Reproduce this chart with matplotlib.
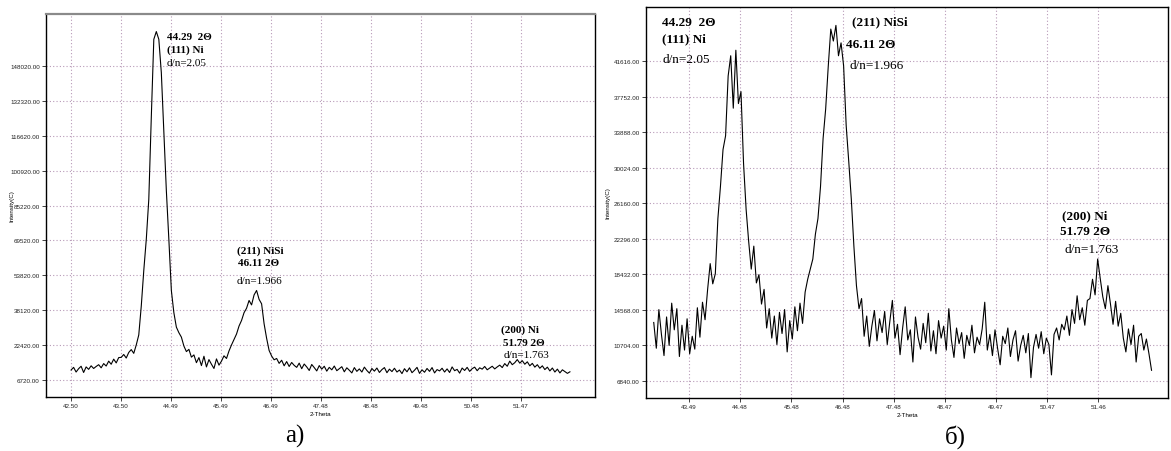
import numpy as np
import matplotlib
matplotlib.use('Agg')
import matplotlib.pyplot as plt

# ---------------------------------------------------------------
# Data (2-Theta scan, step 0.05)
# ---------------------------------------------------------------
step = 0.05

# panel a)
theta_a_start = 42.50
intensity_a = [
    11200, 12400, 10300, 11800, 12900, 10100, 12600, 11500, 13100, 11900,
    12800, 13600, 12200, 14100, 13000, 15200, 13800, 16100, 14400, 16800,
    16900, 18200, 16600, 19100, 20400, 18700, 22500, 27000, 40000, 56000,
    70000, 88000, 125000, 160000, 163500, 160000, 145000, 118000, 92000, 70000,
    47000, 37000, 30500, 28000, 26000, 22000, 19500, 20500, 17000, 18000,
    14500, 16800, 13200, 17400, 12600, 15900, 13800, 11900, 16200, 13400,
    15200, 17600, 16400, 19800, 22500, 25000, 27400, 31000, 33500, 37000,
    39000, 42500, 40500, 45000, 47000, 43000, 41000, 32000, 25500, 20000,
    17500, 15800, 16400, 14200, 15600, 13100, 15000, 12800, 14600, 13300,
    12400, 14300, 11800, 13900, 12600, 11000, 13700, 12300, 10800, 13200,
    11600, 12900, 10700, 12400, 11300, 13000, 10900, 11800, 12700, 10400,
    12200, 11100, 9900, 12300, 10600, 11700, 10300, 12500, 11000, 9800,
    11900, 10700, 12100, 10100, 11400, 12300, 10000, 11600, 10500, 12000,
    10300, 11200, 9600, 11800, 10400, 12200, 10000, 11100, 12400, 9700,
    11300, 10200, 11900, 10600, 12300, 9900, 11400, 10800, 12000, 10300,
    11700, 10100, 12600, 10900, 11500, 9800, 12100, 11000, 12400, 10600,
    11800, 12500, 10900, 12200, 11600, 12800, 11300, 12100, 12900, 11700,
    12600, 13400, 12300, 14100, 12900, 15200, 13600, 14500, 15900, 14300,
    15400, 13800, 14900, 13100, 14200, 12500, 13600, 12000, 13100, 11400,
    12500, 10800, 12100, 10300, 11600, 9900, 11300, 10500, 9700, 10400,
]

# panel б)
theta_b_start = 42.80
intensity_b = [
    13200, 10400, 14600, 11900, 9600, 13800, 10700, 15300, 12400, 14700,
    9500, 12900, 10200, 13600, 9800, 11700, 10300, 14800, 11600, 15400,
    13500, 16800, 19600, 17400, 18500, 24500, 28000, 32000, 33500, 40000,
    42200, 36500, 42800, 37000, 38300, 30500, 25500, 22000, 19000, 21500,
    17500, 18400, 15200, 16800, 12600, 14700, 11500, 13900, 10800, 14300,
    12000, 14600, 10000, 13400, 11400, 14900, 12300, 15300, 13100, 16500,
    17900, 19000, 20100, 22800, 24500, 28000, 33200, 36400, 41000, 45100,
    43800, 45500, 42200, 43600, 41100, 34600, 30700, 26600, 21500, 17200,
    14700, 15800, 11700, 13900, 10600, 12800, 14500, 11200, 13600, 12100,
    14400, 10800, 13300, 15600, 11500, 13000, 9700, 12600, 14900, 11300,
    12400, 8900, 13800, 11600, 10300, 13100, 11000, 14200, 10100, 12300,
    9800, 13400, 11500, 12800, 10200, 14700, 11300, 9400, 12600, 10900,
    12100, 9300, 11800, 10700, 12900, 9900, 11600, 10800, 12500, 15400,
    10200, 11900, 9600, 12400, 10400, 8600, 11700, 10900, 12600, 9500,
    11300, 12300, 9000, 10700, 11800, 9900, 12000, 7200, 10500, 11900,
    10400, 12200, 9800, 11500, 10800, 7500, 11900, 12600, 11300, 13000,
    12400, 13900, 11800, 14600, 13100, 16100, 13500, 14800, 12900, 15600,
    15800, 17900, 16200, 20100, 18000, 16000, 14700, 17200, 15200, 13000,
    15500, 12800, 14200, 11500, 10000, 12500, 10800, 12900, 8900, 11700,
    12000, 10200, 11400, 9800, 8000,
]

theta_a = theta_a_start + step * np.arange(len(intensity_a))
theta_b = theta_b_start + step * np.arange(len(intensity_b))

# axis ticks as printed by the diffractometer software
xticks_a = [42.50, 43.50, 44.49, 45.49, 46.49, 47.48, 48.48, 49.48, 50.48, 51.47]
yticks_a = [6720, 22420, 38120, 53820, 69520, 85220, 100920, 116620, 132320, 148020]
xticks_b = [43.49, 44.48, 45.48, 46.48, 47.48, 48.47, 49.47, 50.47, 51.46]
yticks_b = [6840, 10704, 14568, 18432, 22296, 26160, 30024, 33888, 37752, 41616]

grid_color = '#b89ab8'
serif = 'Liberation Serif'
sans = 'Liberation Sans'


def style_axes(ax, xticks, yticks, xlim, ylim, ylabel_x):
    ax.set_xlim(*xlim)
    ax.set_ylim(*ylim)
    ax.set_xticks(xticks)
    ax.set_yticks(yticks)
    ax.set_xticklabels([f"{v:.2f}" for v in xticks], fontsize=4.5, family=sans)
    ax.set_yticklabels([f"{v:.2f}" for v in yticks], fontsize=4.5, family=sans)
    ax.tick_params(length=3, width=0.6, pad=1.5, colors='#222222')
    ax.grid(True, color=grid_color, linestyle=(0, (1, 2)), linewidth=0.8)
    ax.set_axisbelow(True)
    ax.set_xlabel('2-Theta', fontsize=4.5, family=sans, labelpad=2)
    ax.set_ylabel('Intensity(C)', fontsize=4.5, family=sans)
    ax.yaxis.set_label_coords(ylabel_x, 0.5)
    for s in ax.spines.values():
        s.set_linewidth(1.0)
        s.set_color('black')


fig = plt.figure(figsize=(11.71, 4.52), dpi=100)

# ---------------- panel a) ----------------
ax1 = fig.add_axes([0.0393, 0.1195, 0.4688, 0.8473])
ax1.plot(theta_a, intensity_a, color='black', linewidth=0.8)
style_axes(ax1, xticks_a, yticks_a, (42.0, 52.95), (-930, 171400), -0.058)
ax1.spines['top'].set_color('#8a8a8a')
ax1.spines['top'].set_linewidth(1.6)

ax1.text(44.41, 161500, '44.29  2Θ', fontsize=8, family=serif, weight='bold', va='center')
ax1.text(44.41, 155700, '(111) Ni', fontsize=8, family=serif, weight='bold', va='center')
ax1.text(44.41, 149800, 'd/n=2.05', fontsize=8, family=serif, va='center')
ax1.text(46.27, 65200, '(211) NiSi', fontsize=8, family=serif, weight='bold', ha='center', va='center')
ax1.text(46.23, 59800, '46.11 2Θ', fontsize=8, family=serif, weight='bold', ha='center', va='center')
ax1.text(46.25, 51300, 'd/n=1.966', fontsize=8, family=serif, ha='center', va='center')
ax1.text(51.45, 29700, '(200) Ni', fontsize=8, family=serif, weight='bold', ha='center', va='center')
ax1.text(51.53, 23400, '51.79 2Θ', fontsize=8, family=serif, weight='bold', ha='center', va='center')
ax1.text(51.59, 18000, 'd/n=1.763', fontsize=8, family=serif, ha='center', va='center')

# ---------------- panel б) ----------------
ax2 = fig.add_axes([0.5517, 0.1173, 0.4457, 0.8650])
ax2.plot(theta_b, intensity_b, color='black', linewidth=0.8)
style_axes(ax2, xticks_b, yticks_b, (42.65, 52.82), (4990, 47500), -0.068)

ax2.text(42.96, 45900, '44.29  2Θ', fontsize=9.5, family=serif, weight='bold', va='center')
ax2.text(42.96, 44150, '(111) Ni', fontsize=9.5, family=serif, weight='bold', va='center')
ax2.text(42.98, 41800, 'd/n=2.05', fontsize=9.5, family=serif, va='center')
ax2.text(46.67, 46000, '(211) NiSi', fontsize=9.5, family=serif, weight='bold', va='center')
ax2.text(46.55, 43500, '46.11 2Θ', fontsize=9.5, family=serif, weight='bold', va='center')
ax2.text(46.61, 41200, 'd/n=1.966', fontsize=9.5, family=serif, va='center')
ax2.text(50.76, 24800, '(200) Ni', fontsize=9.5, family=serif, weight='bold', va='center')
ax2.text(50.72, 23150, '51.79 2Θ', fontsize=9.5, family=serif, weight='bold', va='center')
ax2.text(50.80, 21200, 'd/n=1.763', fontsize=9.5, family=serif, va='center')

# panel captions
fig.text(295 / 1171, 1 - 436 / 452, 'а)', fontsize=18, family=serif, ha='center', va='center')
fig.text(955 / 1171, 1 - 437 / 452, 'б)', fontsize=18, family=serif, ha='center', va='center')

fig.savefig('out.png', dpi=100)
plt.close(fig)
